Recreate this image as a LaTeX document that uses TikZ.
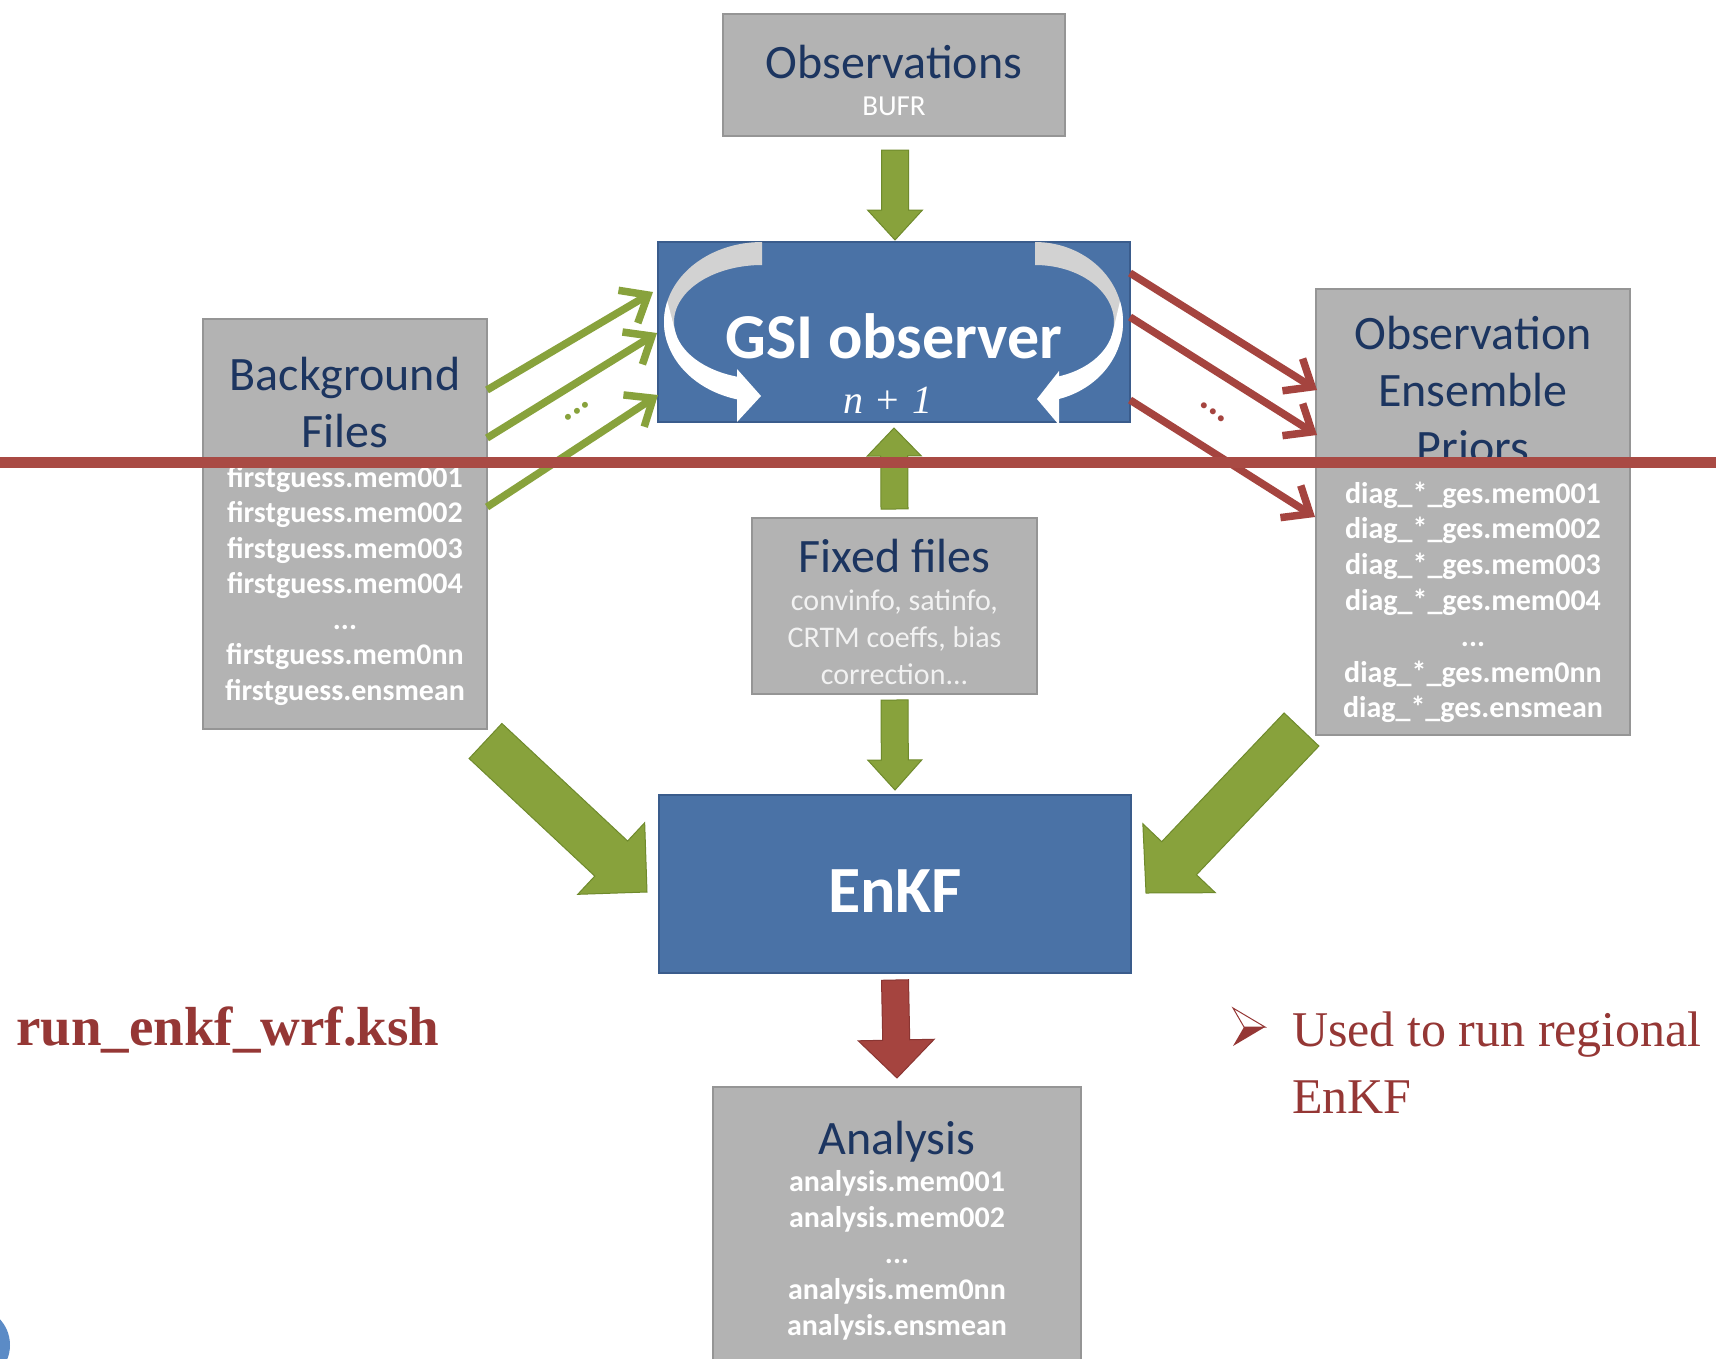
\documentclass[tikz,border=0pt]{standalone}
\usepackage{fontspec}
\setmainfont{Carlito}
\newfontfamily\seriffont{Liberation Serif}
\usetikzlibrary{calc,arrows.meta}
\definecolor{boxgray}{HTML}{B3B3B3}
\definecolor{boxborder}{HTML}{959595}
\definecolor{titleblue}{HTML}{1C3560}
\definecolor{subwhite}{HTML}{F2F2F2}
\definecolor{gsiblue}{HTML}{4A72A6}
\definecolor{gsiborder}{HTML}{3A5C8C}
\definecolor{arrgreen}{HTML}{88A23C}
\definecolor{arrgreendark}{HTML}{6F8A2C}
\definecolor{arrred}{HTML}{A5443F}
\definecolor{arrreddark}{HTML}{8A3532}
\definecolor{redline}{HTML}{A94A44}
\definecolor{txtred}{HTML}{953735}
\definecolor{swirlgray}{HTML}{D2D2D2}
\definecolor{circblue}{HTML}{5B8BC6}
\newcommand\tdots{...}
\newcommand\blockarrow[6]{%
  \path ($(#2)!#5!(#1)$) coordinate (bac);
  \filldraw[#6] ($(#1)!#3!90:(#2)$) -- ($(bac)!#3!90:(#2)$) -- ($(bac)!#4!90:(#2)$) -- (#2)
    -- ($(bac)!#4!-90:(#2)$) -- ($(bac)!#3!-90:(#2)$) -- ($(#1)!#3!-90:(#2)$) -- cycle;}
\begin{document}
\begin{tikzpicture}[x=1pt,y=-1pt,
  box/.style={draw=boxborder, fill=boxgray, line width=1.5pt, inner sep=0pt, outer sep=0pt, anchor=north west},
  bluebox/.style={draw=gsiborder, fill=gsiblue, line width=1.5pt, inner sep=0pt, outer sep=0pt, anchor=north west},
  ttl/.style={text=titleblue, font=\fontsize{48}{58}\selectfont, inner sep=0pt, anchor=base},
  sub/.style={text=white, font=\bfseries\fontsize{30}{36}\selectfont, inner sep=0pt, anchor=base},
  subr/.style={text=subwhite, font=\fontsize{30}{36}\selectfont, inner sep=0pt, anchor=base},
  bigtxt/.style={text=white, inner sep=0pt, anchor=base},
  greenarrow/.style={line width=7.5pt, draw=arrgreen, -{Straight Barb[length=23pt,width=38pt]}},
  redarrow/.style={line width=7.5pt, draw=arrred, -{Straight Barb[length=23pt,width=38pt]}},
  greenblock/.style={fill=arrgreen, draw=arrgreendark, line width=1pt},
  redblock/.style={fill=arrred, draw=arrreddark, line width=1pt},
  dots/.style={font=\bfseries\fontsize{40}{40}\selectfont, inner sep=0pt},
  redtxt/.style={text=txtred, inner sep=0pt, anchor=base west}
]
\clip (0,0) rectangle (1716,1358);
\fill[white] (0,0) rectangle (1716,1358);

% Observations
\node[box, minimum width=342pt, minimum height=122pt] (obs) at (723,14) {};
\node[ttl] (obsT) at (894,78) {Observations};
\node[bigtxt, font=\fontsize{29}{32}\selectfont] (obsS) at (894,115) {BUFR};

% GSI observer
\node[bluebox, minimum width=472pt, minimum height=180pt] (gsi) at (658,242) {};
% left swirl
\fill[swirlgray] plot[domain=90:195, samples=40] ({762+98*cos(\x)},{322-80*sin(\x)})
  -- plot[domain=195:90, samples=40] ({762+88*cos(\x)},{322-57*sin(\x)}) -- cycle;
\fill[white] plot[domain=165:256, samples=40] ({762+98*cos(\x)},{322-80*sin(\x)})
  -- plot[domain=254:190, samples=40] ({762+88*cos(\x)},{322-57*sin(\x)}) -- cycle;
\fill[white] (737,369) -- (761,396) -- (737,422) -- cycle;
% right swirl
\fill[swirlgray] plot[domain=90:195, samples=40] ({1035-88*cos(\x)},{322-80*sin(\x)})
  -- plot[domain=195:90, samples=40] ({1035-79*cos(\x)},{322-57*sin(\x)}) -- cycle;
\fill[white] plot[domain=165:256, samples=40] ({1035-88*cos(\x)},{322-80*sin(\x)})
  -- plot[domain=254:190, samples=40] ({1035-79*cos(\x)},{322-57*sin(\x)}) -- cycle;
\fill[white] (1059,371) -- (1037,399) -- (1059,425) -- cycle;
\node[bigtxt, font=\bfseries\fontsize{64}{70}\selectfont] (gsiT) at (894,358) {GSI observer};
\node[bigtxt, font=\seriffont\itshape\fontsize{40}{44}\selectfont] (gsiN) at (888,413) {n\,\,{\upshape +}\,\,1};

% Background files
\node[box, minimum width=284pt, minimum height=410pt] (bg) at (203,319) {};
\node[ttl] (bgT1) at (345,390) {Background};
\node[ttl] (bgT2) at (345,447) {Files};
\foreach \t [count=\i from 0] in {firstguess.mem001,firstguess.mem002,firstguess.mem003,firstguess.mem004,\tdots,firstguess.mem0nn,firstguess.ensmean}
  \node[sub] (bgL\i) at (345,{487+35.5*\i}) {\t};

% Observation ensemble priors
\node[box, minimum width=314pt, minimum height=446pt] (oe) at (1316,289) {};
\node[ttl] (oeT1) at (1473,349) {Observation};
\node[ttl] (oeT2) at (1473,406) {Ensemble};
\begin{scope}
\clip (1316,289) rectangle (1630,459);
\node[ttl] (oeT3) at (1473,463) {Priors};
\end{scope}
\foreach \t [count=\i from 0] in {diag\_*\_ges.mem001,diag\_*\_ges.mem002,diag\_*\_ges.mem003,diag\_*\_ges.mem004,\tdots,diag\_*\_ges.mem0nn,diag\_*\_ges.ensmean}
  \node[sub] (oeL\i) at (1473,{503+35.8*\i}) {\t};

% Fixed files
\node[box, minimum width=285pt, minimum height=176pt] (fx) at (752,518) {};
\node[ttl] (fxT) at (894.5,572) {Fixed files};
\node[subr] (fx1) at (894.5,610) {convinfo, satinfo,};
\node[subr] (fx2) at (894.5,647) {CRTM coeffs, bias};
\node[subr] (fx3) at (894.5,684) {correction...};

% EnKF
\node[bluebox, minimum width=472pt, minimum height=178pt] (enkf) at (659,795) {};
\node[bigtxt, font=\bfseries\fontsize{66}{70}\selectfont] (enkfT) at (895,912) {EnKF};

% Analysis
\node[box, minimum width=368pt, minimum height=290pt] (ana) at (713,1087) {};
\node[ttl] (anaT) at (897,1154) {Analysis};
\foreach \t [count=\i from 0] in {analysis.mem001,analysis.mem002,\tdots,analysis.mem0nn,analysis.ensmean}
  \node[sub] (anaL\i) at (897,{1191+36*\i}) {\t};

% block arrows
\coordinate (a1t) at ($(obs.south)+(1,14)$);
\coordinate (a1h) at ($(gsi.north)+(1,-2)$);
\blockarrow{a1t}{a1h}{13.5pt}{27.5pt}{30pt}{greenblock}
\coordinate (a2t) at ($(fx.north)+(0,-9)$);
\coordinate (a2h) at ($(gsi.south)+(0,6)$);
\blockarrow{a2t}{a2h}{13.5pt}{27pt}{28pt}{greenblock}
\coordinate (a3t) at ($(fx.south)+(0,6)$);
\coordinate (a3h) at ($(enkf.north)+(0,-5)$);
\blockarrow{a3t}{a3h}{13.5pt}{27pt}{30pt}{greenblock}
\coordinate (a4t) at ($(enkf.south)+(0,7)$);
\coordinate (a4h) at ($(ana.north)+(0,-9)$);
\blockarrow{a4t}{a4h}{13.5pt}{38pt}{38pt}{redblock}
\coordinate (a5t) at ($(bg.south east)+(-1.5,12)$);
\coordinate (a5h) at ($(enkf.west)+(-12,8)$);
\blockarrow{a5t}{a5h}{24pt}{49pt}{49pt}{greenblock}
\coordinate (a6t) at ($(oe.south west)+(-14.5,-5.5)$);
\coordinate (a6h) at ($(enkf.east)+(15,9)$);
\blockarrow{a6t}{a6h}{24pt}{50pt}{48pt}{greenblock}

% thin arrows
\draw[greenarrow] ($(bg.north east)+(0,71)$) -- ($(gsi.north west)+(-5,50)$);
\draw[greenarrow] ($(bg.north east)+(0,119)$) -- ($(gsi.north west)+(-1,91)$);
\draw[greenarrow] ($(bg.north east)+(0,188)$) -- ($(gsi.north west)+(0,153)$);
\node[dots, text=arrgreen, rotate=34] (gdots) at (577,411) {...};
\draw[redarrow] ($(gsi.north east)+(0,31)$) -- ($(oe.north west)+(1,101)$);
\draw[redarrow] ($(gsi.north east)+(0,75)$) -- ($(oe.north west)+(1,146)$);
\draw[redarrow] ($(gsi.north east)+(0,158)$) -- ($(oe.north west)+(-1,228)$);
\node[dots, text=arrred, rotate=-39] (rdots) at (1213,412) {...};

% red horizontal line
\fill[redline] (0,457) rectangle (1716,468);

% texts
\node[redtxt, font=\seriffont\bfseries\fontsize{55}{60}\selectfont] (run) at (16,1045) {run\_enkf\_wrf.ksh};
\filldraw[draw=txtred, fill=white, line width=1pt] (1233,1008) -- (1265,1027) -- (1244,1027) -- cycle;
\fill[txtred] (1244,1027) -- (1265,1027) -- (1233,1046) -- cycle;
\node[redtxt, font=\seriffont\fontsize{50}{60}\selectfont] (used1) at (1292,1046) {Used to run regional};
\node[redtxt, font=\seriffont\fontsize{50}{60}\selectfont] (used2) at (1292,1113) {EnKF};

% blue circle
\fill[circblue] (-28,1345) circle[radius=38pt];
\end{tikzpicture}
\end{document}
